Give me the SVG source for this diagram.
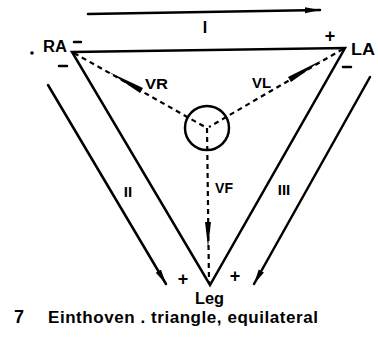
<svg xmlns="http://www.w3.org/2000/svg" width="378" height="338" viewBox="0 0 378 338">
<style>
.t{font-family:"Liberation Sans",Arial,sans-serif;font-weight:bold;fill:#000}
.s{stroke:#000;stroke-width:2.5;fill:none;stroke-linecap:round}
.d{stroke:#000;stroke-width:2.2;fill:none;stroke-dasharray:5 4}
.a{fill:#000}
</style>
<defs>
<marker id="ah" markerUnits="userSpaceOnUse" markerWidth="16" markerHeight="8" refX="15" refY="4" orient="auto">
<path d="M0,1 L15,4 L0,7 z" fill="#000"/>
</marker>
</defs>
<rect width="378" height="338" fill="#fff"/>
<g id="connectors">
<path class="s" d="M88,14 L320,10" marker-end="url(#ah)"/>
<path class="s" d="M72,52 L345,48 L210,285 Z" stroke-linejoin="miter"/>
<path class="s" d="M48,85 L166,284" marker-end="url(#ah)"/>
<path class="s" d="M370,77 L254,284" marker-end="url(#ah)"/>
<path class="d" d="M74,53 L205,127"/>
<path class="d" d="M343,49 L209,127"/>
<path class="d" d="M207,128 L209,283"/>
<path class="a" d="M109,72 L143,88 L140,93 Z"/>
<path class="a" d="M322,60 L288,77 L291,82 Z"/>
<path class="a" d="M208,247 L205,222 L211,222 Z"/>
</g>
<g id="top-lead">
<text class="t" x="205" y="33" font-size="16" text-anchor="middle">I</text>
</g>
<g id="RA">
<text class="t" x="43" y="52" font-size="16" textLength="24" lengthAdjust="spacingAndGlyphs">RA</text>
<path class="s" d="M74,42 L81,42 M59,66 L67,66" stroke-width="2"/>
<circle cx="32" cy="53" r="1.8" fill="#000"/>
</g>
<g id="LA">
<text class="t" x="351" y="55" font-size="16" textLength="24" lengthAdjust="spacingAndGlyphs">LA</text>
<text class="t" x="330" y="42" font-size="18" text-anchor="middle">+</text>
<path class="s" d="M343,67 L351,67" stroke-width="2"/>
</g>
<g id="center">
<circle cx="207" cy="128" r="22" fill="none" stroke="#000" stroke-width="2.5"/>
<text class="t" x="145" y="89" font-size="15" textLength="23" lengthAdjust="spacingAndGlyphs">VR</text>
<text class="t" x="252" y="88" font-size="15" textLength="19" lengthAdjust="spacingAndGlyphs">VL</text>
<text class="t" x="215" y="193" font-size="15" textLength="18" lengthAdjust="spacingAndGlyphs">VF</text>
</g>
<g id="lead-II">
<text class="t" x="128" y="197" font-size="15" text-anchor="middle">II</text>
</g>
<g id="lead-III">
<text class="t" x="284" y="195" font-size="15" text-anchor="middle">III</text>
</g>
<g id="Leg">
<text class="t" x="195" y="304" font-size="17" textLength="29" lengthAdjust="spacingAndGlyphs">Leg</text>
<text class="t" x="235" y="282" font-size="18" text-anchor="middle">+</text>
<text class="t" x="183" y="285" font-size="18" text-anchor="middle">+</text>
</g>
<g id="caption">
<text class="t" x="14" y="323" font-size="18">7</text>
<text class="t" x="48" y="323" font-size="17" textLength="270" lengthAdjust="spacing">Einthoven . triangle, equilateral</text>
</g>
</svg>
